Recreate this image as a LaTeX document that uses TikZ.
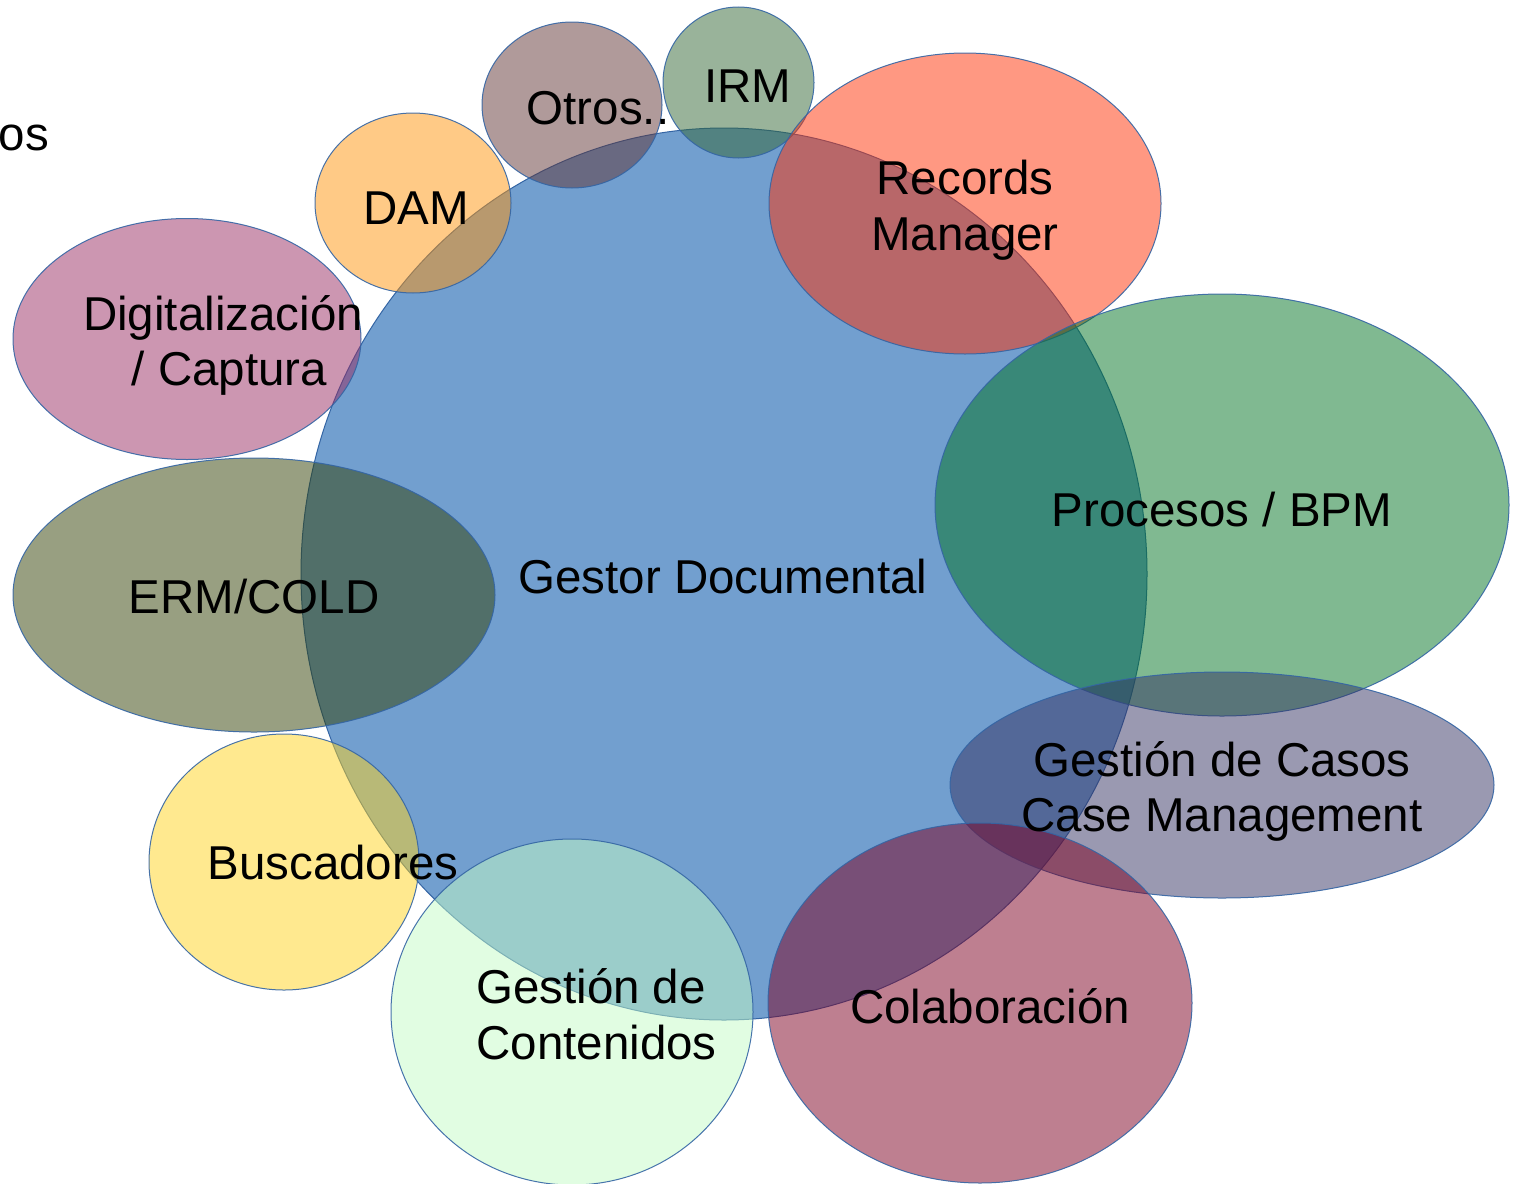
\documentclass[tikz,border=0pt]{standalone}
\usepackage{fontspec}
\setmainfont{Liberation Sans}
\definecolor{gdblue}{RGB}{114,159,207}
\definecolor{edgeblue}{RGB}{52,101,164}
\definecolor{cOtros}{RGB}{97,53,53}
\definecolor{cIRM}{RGB}{51,103,53}
\definecolor{cRec}{RGB}{255,49,5}
\definecolor{cDAM}{RGB}{255,149,14}
\definecolor{cDig}{RGB}{153,45,99}
\definecolor{cERM}{RGB}{49,64,4}
\definecolor{cBPM}{RGB}{1,115,35}
\definecolor{cCase}{RGB}{53,51,99}
\definecolor{cBus}{RGB}{255,211,32}
\definecolor{cCont}{RGB}{196,251,198}
\definecolor{cCol}{RGB}{126,0,33}
\begin{document}
\begin{tikzpicture}[x=1pt,y=-1pt,
  blob/.style={fill=#1,fill opacity=0.5,draw=edgeblue,draw opacity=0.9,line width=1pt},
  lbl/.style={inner sep=0pt,text=black,font=\fontsize{47.5}{55.5}\selectfont},
  mlbl/.style={lbl,align=center}]
\useasboundingbox (0,0) rectangle (1514,1183);
% central shape (opaque)
\filldraw[fill=gdblue,draw=edgeblue,line width=1pt] (724,574) ellipse [x radius=423,y radius=446];
% satellites
\path[blob=cOtros] (572,105) ellipse [x radius=90,y radius=83];
\path[blob=cIRM] (738.5,82.5) ellipse [x radius=75.5,y radius=75.5];
\path[blob=cRec] (965,203.5) ellipse [x radius=196,y radius=150.5];
\path[blob=cDAM] (413,203) ellipse [x radius=98,y radius=90];
\path[blob=cDig] (187,339) ellipse [x radius=174,y radius=120.5];
\path[blob=cERM] (254,595) ellipse [x radius=241,y radius=137];
\path[blob=cBPM] (1222,505) ellipse [x radius=287,y radius=211];
\path[blob=cCase] (1222,785) ellipse [x radius=272,y radius=113];
\path[blob=cBus] (284,862) ellipse [x radius=135,y radius=128];
\path[blob=cCont] (572,1012) ellipse [x radius=181,y radius=173];
\path[blob=cCol] (980,1003) ellipse [x radius=212,y radius=180];
% labels
\node[lbl,anchor=base east] (os) at (49,150) {os};
\node[lbl,anchor=base] (otros) at (598,124) {Otros..};
\node[lbl,anchor=base] (irm) at (748,102) {IRM};
\node[mlbl] (rec) at (965,210) {Records\\Manager};
\node[lbl,anchor=base] (dam) at (416,224) {DAM};
\node[mlbl] (dig) at (223,345.5) {Digitalización\\\hspace*{13pt}/ Captura};
\node[lbl,anchor=base] (erm) at (254,613) {ERM/COLD};
\node[lbl,anchor=base] (gd) at (723,593) {Gestor Documental};
\node[lbl,anchor=base] (bpm) at (1222,526) {Procesos / BPM};
\node[mlbl] (case) at (1222,791.5) {Gestión de Casos\\Case Management};
\node[lbl,anchor=base] (bus) at (333,879) {Buscadores};
\node[mlbl] (cont) at (591,1014) {Gestión de\\\hspace*{11pt}Contenidos};
\node[lbl,anchor=base] (col) at (990,1023) {Colaboración};
\end{tikzpicture}
\end{document}
